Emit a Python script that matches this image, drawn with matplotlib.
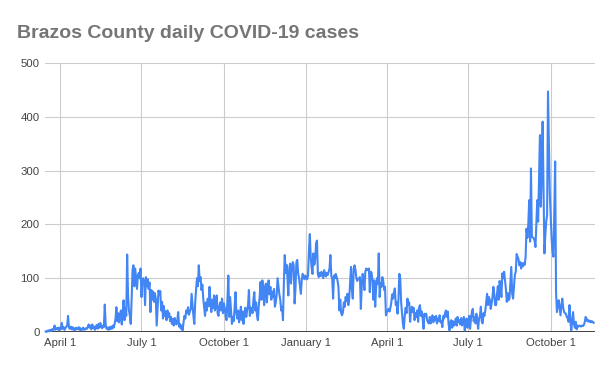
import matplotlib
matplotlib.use("Agg")
import matplotlib.pyplot as plt
import matplotlib.dates as mdates
import pandas as pd

# ---- daily case counts ----
mar20 = [1, 0, 2, 3, 1, 4, 2, 5, 3, 6, 12, 4, 7, 5, 8, 3]
apr20 = [8, 5, 17, 6, 9, 4, 7, 10, 12, 30, 8, 6, 10, 5, 9, 4, 7, 3, 8, 6, 5, 9, 4, 7, 3, 6, 8, 4, 5, 7]
may20 = [6, 9, 14, 8, 12, 5, 14, 7, 10, 4, 9, 13, 6, 15, 8, 17, 10, 7, 12, 9, 51, 14, 6, 8, 4, 9, 5, 10, 6, 12, 8]
jun20 = [15, 25, 46, 20, 35, 18, 30, 40, 14, 35, 59, 22, 45, 30, 144, 68, 40, 30, 15, 60, 115, 124, 85, 118, 100, 80, 105, 110, 100, 118]
jul20 = [65, 95, 100, 93, 50, 102, 85, 98, 80, 92, 37, 78, 60, 75, 56, 72, 62, 12, 45, 77, 70, 76, 40, 56, 25, 48, 30, 38, 22, 40, 28]
aug20 = [35, 20, 28, 15, 24, 12, 26, 18, 14, 22, 37, 10, 15, 6, 12, 3, 18, 30, 25, 40, 35, 46, 32, 38, 42, 71, 50, 30, 15, 55, 80]
sep20 = [100, 85, 124, 95, 102, 78, 88, 62, 45, 30, 55, 40, 62, 48, 84, 55, 37, 60, 45, 68, 40, 50, 68, 35, 30, 48, 55, 40, 62, 35]
oct20 = [53, 45, 30, 22, 60, 105, 28, 65, 40, 15, 28, 20, 45, 74, 35, 25, 40, 18, 30, 47, 22, 38, 15, 35, 45, 28, 40, 50, 78, 30, 45]
nov20 = [45, 35, 60, 74, 40, 55, 30, 22, 50, 65, 93, 60, 96, 78, 50, 85, 90, 55, 80, 96, 70, 84, 60, 75, 65, 80, 47, 55, 70, 100]
dec20 = [85, 70, 60, 40, 47, 22, 90, 143, 110, 125, 102, 68, 118, 127, 90, 120, 130, 124, 53, 81, 130, 134, 108, 100, 85, 71, 96, 108, 102, 98, 105]
jan21 = [100, 98, 105, 150, 182, 140, 120, 108, 146, 125, 135, 165, 170, 108, 102, 110, 104, 112, 106, 100, 115, 108, 103, 110, 106, 112, 118, 143, 104, 100, 62]
feb21 = [105, 100, 108, 102, 95, 84, 40, 60, 35, 31, 37, 55, 47, 65, 58, 71, 50, 62, 90, 121, 80, 62, 118, 124, 115, 100, 95, 99]
mar21 = [99, 102, 43, 85, 108, 96, 78, 112, 118, 115, 116, 118, 74, 112, 110, 96, 60, 96, 47, 80, 100, 90, 146, 65, 90, 84, 102, 95, 78, 84, 31]
apr21 = [37, 40, 43, 38, 45, 55, 70, 62, 74, 81, 50, 56, 34, 60, 108, 99, 55, 35, 15, 6, 30, 45, 35, 62, 50, 55, 19, 40, 47, 37]
may21 = [45, 22, 35, 28, 40, 19, 45, 50, 30, 38, 25, 6, 34, 30, 34, 22, 18, 16, 28, 16, 25, 31, 18, 28, 22, 30, 16, 25, 20, 31, 18]
jun21 = [20, 9, 30, 25, 35, 40, 28, 38, 15, 3, 18, 22, 8, 20, 12, 15, 25, 12, 28, 18, 22, 14, 26, 12, 20, 28, 3, 15, 25, 8]
jul21 = [18, 30, 6, 25, 37, 43, 20, 28, 16, 34, 22, 6, 25, 30, 47, 20, 16, 35, 30, 40, 55, 71, 50, 65, 60, 43, 52, 65, 84, 70, 50]
aug21 = [50, 70, 85, 60, 95, 78, 65, 109, 100, 112, 96, 80, 56, 72, 59, 62, 90, 121, 71, 62, 85, 106, 112, 145, 140, 136, 124, 130, 118, 128, 122]
sep21 = [128, 125, 140, 192, 175, 200, 245, 168, 304, 177, 176, 174, 170, 158, 200, 245, 205, 290, 366, 233, 300, 391, 267, 146, 180, 205, 217, 447, 350, 258]
oct21 = [215, 175, 150, 140, 220, 317, 74, 37, 50, 59, 45, 31, 50, 62, 45, 37, 35, 34, 28, 25, 19, 50, 20, 3, 20, 37, 15, 8, 19, 5, 12]
nov21 = [10, 12, 11, 10, 12, 11, 13, 18, 28, 25, 20, 22, 19, 21, 18, 20, 19, 17]

segments = [
    ("2020-03-16", mar20), ("2020-04-01", apr20), ("2020-05-01", may20),
    ("2020-06-01", jun20), ("2020-07-01", jul20), ("2020-08-01", aug20),
    ("2020-09-01", sep20), ("2020-10-01", oct20), ("2020-11-01", nov20),
    ("2020-12-01", dec20), ("2021-01-01", jan21), ("2021-02-01", feb21),
    ("2021-03-01", mar21), ("2021-04-01", apr21), ("2021-05-01", may21),
    ("2021-06-01", jun21), ("2021-07-01", jul21), ("2021-08-01", aug21),
    ("2021-09-01", sep21), ("2021-10-01", oct21), ("2021-11-01", nov21),
]

tick_dates = ["2020-04-01", "2020-07-01", "2020-10-01", "2021-01-01",
              "2021-04-01", "2021-07-01", "2021-10-01"]
tick_labels = ["April 1", "July 1", "October 1", "January 1",
               "April 1", "July 1", "October 1"]
y_ticks = [0, 100, 200, 300, 400, 500]

title = "Brazos County daily COVID-19 cases"

dates = []
values = []
for start, vals in segments:
    dates.extend(pd.date_range(start, periods=len(vals), freq="D"))
    values.extend(vals)

plt.rcParams["font.family"] = ["Liberation Sans", "DejaVu Sans"]

W, H = 613, 371
fig = plt.figure(figsize=(W / 100, H / 100), dpi=100)
ax = fig.add_axes([45 / W, 39 / H, 550 / W, 269 / H])

ax.plot(dates, values, color="#4285F4", lw=1.5, solid_joinstyle="round",
        zorder=3, clip_on=False)

ax.set_ylim(0, 500)
ax.set_yticks(y_ticks)
origin = pd.Timestamp("2020-04-01")
ax.set_xlim(origin - pd.Timedelta(days=16.75), origin + pd.Timedelta(days=597.5))
ax.set_xticks([pd.Timestamp(d) for d in tick_dates])
ax.set_xticklabels(tick_labels)

ax.grid(True, color="#cccccc", lw=0.8, zorder=0)
ax.set_axisbelow(True)
for s in ax.spines.values():
    s.set_visible(False)
ax.axhline(0, color="#333333", lw=1.3, zorder=2)

ax.tick_params(axis="both", length=0, labelsize=8.2, labelcolor="#444444")
ax.tick_params(axis="x", pad=4.5)
ax.tick_params(axis="y", pad=4.0)

fig.text(16.7 / W, 1 - 37.7 / H, title, fontsize=14, fontweight="bold",
         color="#757575", ha="left", va="baseline")

fig.savefig("out.png", dpi=100)
